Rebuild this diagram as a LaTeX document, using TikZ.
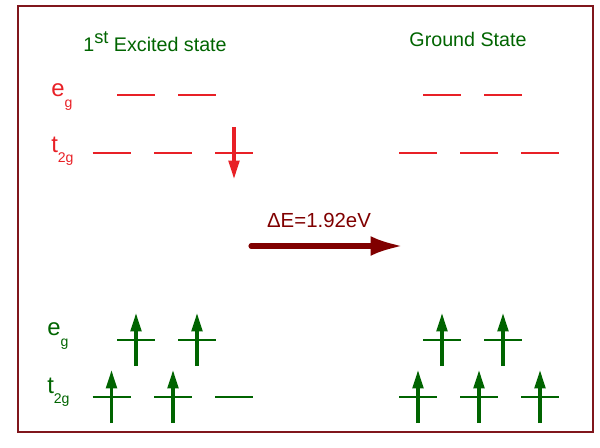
\documentclass[tikz,border=0pt]{standalone}
\usepackage{fontspec}
\setmainfont{Liberation Sans}
\usetikzlibrary{arrows.meta}
\definecolor{framered}{RGB}{128,22,28}
\definecolor{levelred}{RGB}{232,32,38}
\definecolor{levelgreen}{RGB}{0,100,0}
\definecolor{transred}{RGB}{128,0,0}
\tikzset{
  title/.style={levelgreen, font=\fontsize{14}{16}\selectfont, anchor=base},
  orblabel/.style={font=\fontsize{17}{19}\selectfont, anchor=west, inner sep=0pt},
  levelline/.style={line width=1.1pt},
  spinup/.style={draw=levelgreen, fill=levelgreen, line width=2.4pt, -{Triangle[length=13pt, width=7.5pt]}},
  spindown/.style={draw=levelred, fill=levelred, line width=2.4pt, -{Triangle[length=13pt, width=7.5pt]}},
}
\newcommand{\orb}[2]{#1\raisebox{-0.8ex}{\fontsize{10}{12}\selectfont #2}}
\begin{document}
\begin{tikzpicture}[x=0.025cm, y=-0.025cm]
\useasboundingbox (0,0) rectangle (600,448);
\draw[framered, line width=1.5pt] (18,6) rectangle (593,432);
% titles
\node[title] (excited) at (155,51) {1\raisebox{0.75ex}{\fontsize{13}{15}\selectfont st} Excited state};
\node[title] (ground) at (468,46) {Ground State};
% orbital labels
\node[orblabel, levelred] (egtop) at (51,97) {\orb{e}{g}};
\node[orblabel, levelred] (ttop) at (51,151) {\orb{t}{2g}};
\node[orblabel, levelgreen] (egbot) at (47,336) {\orb{e}{g}};
\node[orblabel, levelgreen] (tbot) at (47,392) {\orb{t}{2g}};
% upper levels
\foreach \lx/\ly in {136/95,197/95,111.5/153,173/153,234/153,442/95,503/95,418/153,479/153,540/153}
  \draw[levelline, levelred] (\lx-19,\ly) -- (\lx+19,\ly);
\draw[spindown] (234,127) -- (234,179);
% lower levels
\foreach \lx/\ly in {136/340,197/340,111.5/397,173/397,234/397,442/340,503/340,418/397,479/397,540/397}
  \draw[levelline, levelgreen] (\lx-19,\ly) -- (\lx+19,\ly);
\foreach \sx/\sy in {136/340,197/340,111.5/397,173/397,442/340,503/340,418/397,479/397,540/397}
  \draw[spinup] (\sx,\sy+26) -- (\sx,\sy-27);
% transition
\coordinate (from) at (251,246);
\coordinate (to) at (403,246);
\draw[transred, line width=3.6pt, line cap=round, -{Latex[length=23pt, width=14pt]}] (from) -- (to);
\node[transred, font=\fontsize{14.5}{16}\selectfont, anchor=base] (de) at (319,227) {ΔE=1.92eV};
\end{tikzpicture}
\end{document}
